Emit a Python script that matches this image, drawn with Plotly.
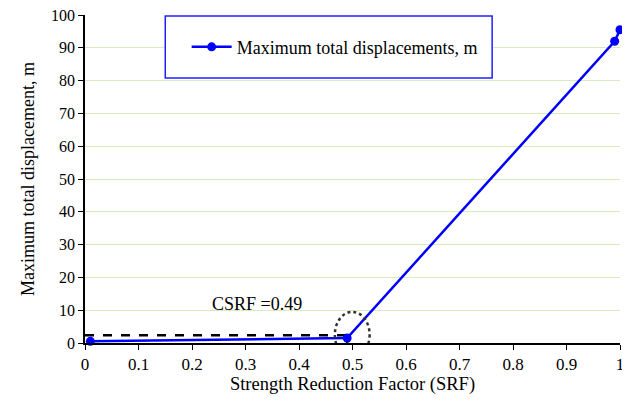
import plotly.graph_objects as go

srf = [0.01, 0.49, 0.99, 1.0]
disp = [0.5, 1.5, 92.0, 95.5]
csrf_x = [0.0, 0.49, 0.49]
csrf_y = [2.4, 2.4, 0.0]
x_ticks = [0, 0.1, 0.2, 0.3, 0.4, 0.5, 0.6, 0.7, 0.8, 0.9, 1]
x_tick_labels = ["0", "0.1", "0.2", "0.3", "0.4", "0.5", "0.6", "0.7", "0.8", "0.9", "1"]
y_ticks = [0, 10, 20, 30, 40, 50, 60, 70, 80, 90, 100]

font = "Liberation Serif"

fig = go.Figure()
fig.add_trace(go.Scatter(x=csrf_x[:2], y=csrf_y[:2], mode="lines",
                         line=dict(color="black", width=2.5, dash="dash"), showlegend=False))
fig.add_trace(go.Scatter(x=csrf_x[1:], y=csrf_y[1:], mode="lines",
                         line=dict(color="black", width=2.5), showlegend=False))
fig.add_trace(go.Scatter(x=srf, y=disp, mode="lines+markers",
                         name="Maximum total displacements, m",
                         line=dict(color="#0000ff", width=2.5),
                         marker=dict(color="#0000ff", size=9), cliponaxis=False))

fig.add_shape(type="circle", xref="x", yref="y", x0=0.467, x1=0.532, y0=-4.5, y1=9.5,
              line=dict(color="#333333", width=2.5, dash="dot"))
fig.add_shape(type="rect", xref="paper", yref="paper", x0=0.15, x1=0.761, y0=0.808, y1=0.997,
              line=dict(color="#2020ff", width=1.5), fillcolor="white", layer="above")
fig.add_annotation(x=0.321, y=11.9, xref="x", yref="y", text="CSRF =0.49", showarrow=False,
                   font=dict(family=font, size=18, color="black"), xanchor="center", yanchor="middle")

fig.update_layout(
    width=620, height=400,
    margin=dict(l=77, r=8, t=7, b=65, autoexpand=False),
    paper_bgcolor="white", plot_bgcolor="white",
    font=dict(family=font, size=17, color="black"),
    showlegend=True,
    legend=dict(x=0.19, y=0.902, xanchor="left", yanchor="middle",
                borderwidth=0, bgcolor="rgba(0,0,0,0)",
                font=dict(family=font, size=18, color="black"),
                itemwidth=40),
)
fig.update_xaxes(range=[0, 1], tickvals=x_ticks, ticktext=x_tick_labels,
                 showline=True, linecolor="black", linewidth=1.5,
                 ticks="outside", ticklen=5, tickcolor="black", showgrid=False, zeroline=False,
                 automargin=False, ticklabeloverflow="allow",
                 tickfont=dict(family=font, size=17, color="black"),
                 title=dict(text="Strength Reduction Factor (SRF)", font=dict(family=font, size=18.5, color="black"), standoff=4))
fig.update_yaxes(range=[0, 100], tickvals=y_ticks,
                 showline=True, linecolor="black", linewidth=1.5,
                 ticks="outside", ticklen=5, tickcolor="black", automargin=False,
                 ticklabeloverflow="allow",
                 tickfont=dict(family=font, size=16, color="black"),
                 showgrid=True, gridcolor="#d8ecc0", gridwidth=1, zeroline=False,
                 title=dict(text="Maximum total displacement, m", font=dict(family=font, size=18, color="black"), standoff=12))

fig.write_html("out.html")
